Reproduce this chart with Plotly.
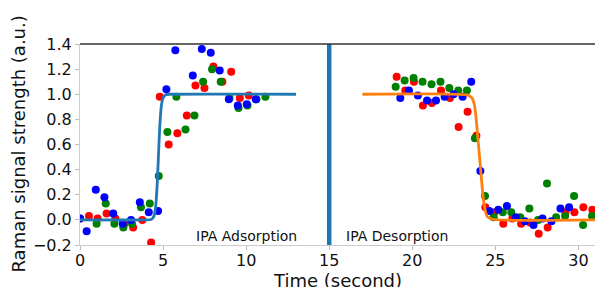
import plotly.graph_objects as go

# ---- data ----
blue_x = [0.0, 0.4, 0.95, 1.47, 2.0, 2.57, 3.07, 3.6, 4.14, 4.7, 5.2, 5.74, 6.79, 7.33, 7.87, 8.41, 8.96, 9.5, 10.04, 10.58,
          19.28, 19.8, 20.34, 20.89, 21.43, 21.95, 22.49, 23.03, 23.55, 24.1, 24.64, 25.18, 25.7, 26.24, 26.78, 27.3, 27.84, 28.38, 28.92, 29.44]
blue_y = [0.01, -0.09, 0.24, 0.18, 0.05, -0.03, 0.0, 0.14, 0.06, 0.07, 1.04, 1.35, 1.15, 1.36, 1.33, 1.19, 0.96, 0.91, 0.92, 0.96,
          0.97, 1.03, 0.99, 0.95, 0.95, 0.98, 1.00, 0.98, 1.10, 0.39, 0.07, 0.08, 0.11, 0.02, -0.01, -0.04, 0.01, -0.01, 0.09, 0.10]

red_x = [0.0, 0.54, 1.06, 1.6, 2.13, 2.67, 3.2, 3.75, 4.28, 4.8, 5.34, 5.86, 6.43, 6.95, 7.49, 8.03, 8.57, 9.1, 9.62, 10.16,
         19.06, 19.58, 20.1, 20.64, 21.18, 21.73, 22.27, 22.79, 23.33, 23.86, 24.4, 24.94, 25.48, 26.02, 26.55, 27.09, 27.61, 28.15, 29.22, 29.76, 30.3, 30.84]
red_y = [0.01, 0.03, 0.01, 0.05, 0.01, -0.03, -0.06, 0.0, -0.18, 0.98, 0.60, 0.69, 0.83, 1.07, 1.05, 1.22, 1.10, 1.18, 0.97, 0.99,
         1.14, 1.03, 1.10, 0.91, 0.93, 1.03, 0.97, 0.74, 0.86, 0.67, 0.10, 0.06, -0.03, 0.01, -0.03, -0.02, -0.11, -0.06, 0.06, 0.06, 0.10, 0.08]

green_x = [1.0, 1.55, 2.07, 2.61, 3.13, 3.67, 4.2, 4.74, 5.26, 5.8, 6.35, 6.89, 7.41, 7.95, 8.47, 9.0, 9.54, 10.08, 10.62, 11.16,
           19.0, 19.54, 20.08, 20.62, 21.16, 21.7, 22.23, 22.77, 23.29, 23.77, 24.38, 24.9, 25.45, 25.96, 26.5, 27.05, 27.57, 28.11, 28.66, 29.2, 29.74, 30.28, 30.82]
green_y = [-0.03, 0.13, -0.03, -0.06, -0.03, 0.10, 0.13, 0.35, 0.70, 0.98, 0.72, 0.83, 1.10, 1.20, 1.10, 0.97, 0.89, 0.91, 0.96, 0.98,
           1.06, 1.11, 1.13, 1.10, 1.08, 1.10, 1.05, 1.03, 1.03, 0.65, 0.19, 0.02, 0.06, 0.06, 0.02, 0.09, 0.0, 0.29, 0.02, 0.03, 0.19, -0.04, 0.03]

# fitted curves
ads_fit_x = [0, 4.0, 4.3, 4.45, 4.55, 4.65, 4.72, 4.8, 4.9, 5.0, 5.15, 5.4, 13]
ads_fit_y = [0, 0.0, 0.004, 0.03, 0.10, 0.29, 0.50, 0.74, 0.91, 0.97, 0.996, 1.0, 1.0]
des_fit_x = [17, 23.3, 23.6, 23.75, 23.85, 23.95, 24.05, 24.15, 24.25, 24.35, 24.5, 24.8, 31]
des_fit_y = [1.0, 0.995, 0.97, 0.91, 0.80, 0.65, 0.50, 0.35, 0.20, 0.10, 0.03, 0.005, 0.0]

divider_time = 15
y_range = [-0.2, 1.4]
x_range = [0, 31]
x_ticks = [0, 5, 10, 15, 20, 25, 30]
y_ticks = [-0.2, 0.0, 0.2, 0.4, 0.6, 0.8, 1.0, 1.2, 1.4]
y_tick_text = ["\u22120.2", "0.0", "0.2", "0.4", "0.6", "0.8", "1.0", "1.2", "1.4"]
labels = [("IPA Adsorption", 10.0, -0.125), ("IPA Desorption", 19.07, -0.125)]
x_title = "Time (second)"
y_title = "Raman signal strength (a.u.)"

FONT = "DejaVu Sans"
fig = go.Figure()

fig.add_trace(go.Scatter(x=[divider_time, divider_time], y=y_range, mode="lines",
                         line=dict(color="#1f77b4", width=4.5), hoverinfo="skip"))

for xs, ys, c in [(red_x, red_y, "#ff0000"), (green_x, green_y, "#008000"), (blue_x, blue_y, "#0000ff")]:
    fig.add_trace(go.Scatter(x=xs, y=ys, mode="markers",
                             marker=dict(color=c, size=8, line=dict(width=0))))

fig.add_trace(go.Scatter(x=ads_fit_x, y=ads_fit_y, mode="lines",
                         line=dict(color="#1f77b4", width=2.8, shape="spline", smoothing=0.5)))
fig.add_trace(go.Scatter(x=des_fit_x, y=des_fit_y, mode="lines",
                         line=dict(color="#ff7f0e", width=2.8, shape="spline", smoothing=0.5)))

for txt, x, y in labels:
    fig.add_annotation(x=x, y=y, text=txt, showarrow=False,
                       font=dict(family=FONT, size=14, color="#111"))

fig.add_annotation(xref="paper", yref="paper", x=0.5, y=0, yanchor="top", yshift=-23,
                   text=x_title, showarrow=False, font=dict(family=FONT, size=18, color="#111"))
fig.add_annotation(xref="paper", yref="paper", x=0, y=0.5, xanchor="center", xshift=-62,
                   textangle=-90, text=y_title, showarrow=False,
                   font=dict(family=FONT, size=18, color="#111"))

fig.add_shape(type="line", xref="paper", yref="paper", x0=0, x1=1, y0=1, y1=1,
              line=dict(color="#333333", width=1.5))

fig.update_layout(
    width=595, height=287,
    margin=dict(l=80, r=0, t=44, b=42, autoexpand=False),
    paper_bgcolor="white", plot_bgcolor="white",
    showlegend=False,
    font=dict(family=FONT, size=16, color="#111"),
    xaxis=dict(range=x_range, tickvals=x_ticks, showgrid=False, zeroline=False, automargin=False,
               showline=True, linecolor="#cccccc", linewidth=1,
               ticks="outside", ticklen=4, tickcolor="#bbbbbb", ticklabelstandoff=-3,
               tickfont=dict(family=FONT, size=16)),
    yaxis=dict(range=y_range, tickvals=y_ticks, ticktext=y_tick_text, showgrid=False, zeroline=False,
               automargin=False,
               showline=True, linecolor="#cccccc", linewidth=1,
               ticks="outside", ticklen=4, tickcolor="#bbbbbb",
               tickfont=dict(family=FONT, size=16)),
)

fig.write_html("out.html", config={"displayModeBar": False},
               post_script="document.body.style.margin='0';document.body.style.overflow='hidden';")
